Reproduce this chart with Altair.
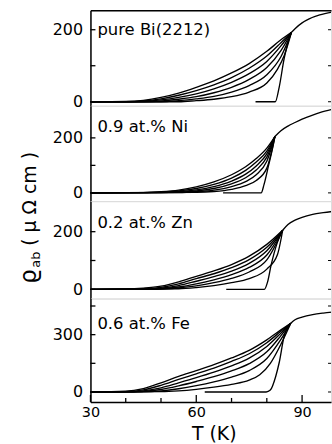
import altair as alt
import pandas as pd

FONT = "DejaVu Sans"
X_MIN, X_MAX = 30, 98.2
W = 242

# ---------------- data ----------------
# pure Bi(2212)
BI_T = [
    [30, 40, 45, 50, 55, 60, 65, 70, 75, 80, 84, 87],
    [30, 40, 45, 50, 55, 60, 65, 70, 75, 80, 84, 87],
    [30, 40, 45, 50, 55, 60, 65, 70, 75, 80, 84, 87],
    [30, 45, 50, 55, 60, 65, 70, 75, 80, 84, 87],
    [30, 50, 55, 60, 65, 70, 75, 80, 84, 87],
    [30, 55, 60, 65, 70, 75, 80, 83, 85, 87],
    [76.8, 82.4, 83.5, 84.9, 86, 87],
]
BI_R = [
    [0, 1, 4, 12, 24, 40, 58, 80, 106, 140, 172, 193],
    [0, 0, 2, 8, 18, 31, 47, 67, 93, 127, 164, 193],
    [0, 0, 1, 5, 12, 22, 36, 54, 78, 112, 155, 193],
    [0, 0, 2, 7, 14, 25, 40, 62, 95, 142, 193],
    [0, 0, 3, 8, 15, 27, 45, 75, 125, 193],
    [0, 0, 3, 7, 14, 27, 52, 90, 130, 193],
    [0, 0, 40, 119, 165, 193],
]
BI_NT = [87, 88, 90, 92, 95, 98.5]
BI_NR = [193, 203, 219, 230, 241, 249]

# 0.9 at.% Ni
NI_T = [
    [30, 45, 50, 55, 60, 65, 70, 74, 77, 80, 82.3],
    [30, 50, 55, 60, 65, 70, 74, 77, 80, 82.3],
    [30, 50, 55, 60, 65, 70, 74, 77, 80, 82.3],
    [30, 55, 60, 65, 70, 74, 77, 80, 82.3],
    [30, 55, 60, 65, 70, 74, 77, 80, 82.3],
    [30, 60, 65, 70, 74, 77, 80, 82.3],
    [67.6, 78.4, 79.2, 80.5, 81.6, 82.3],
]
NI_R = [
    [0, 1, 4, 10, 22, 40, 66, 95, 125, 163, 205],
    [0, 2, 7, 16, 31, 54, 82, 112, 152, 205],
    [0, 1, 4, 11, 23, 43, 68, 98, 142, 205],
    [0, 2, 7, 16, 33, 55, 83, 130, 205],
    [0, 1, 4, 10, 23, 41, 66, 115, 205],
    [0, 2, 5, 13, 26, 45, 90, 205],
    [0, 0, 30, 100, 160, 205],
]
NI_NT = [82.3, 84, 86, 88, 90, 93, 95, 98.5]
NI_NR = [205, 226, 243, 256, 268, 283, 292, 304]

# 0.2 at.% Zn
ZN_T = [
    [30, 40, 45, 50, 55, 60, 65, 70, 75, 80, 84.5],
    [30, 42, 45, 50, 55, 60, 65, 70, 75, 80, 84.5],
    [30, 45, 50, 55, 60, 65, 70, 75, 80, 84.5],
    [30, 48, 50, 55, 60, 65, 70, 75, 80, 84.5],
    [30, 50, 55, 60, 65, 70, 75, 80, 84.5],
    [30, 55, 60, 65, 70, 75, 80, 83, 84.5],
    [68.5, 79.3, 80.2, 81.2, 83, 84.5],
]
ZN_R = [
    [0, 1, 4, 11, 26, 45, 64, 86, 115, 156, 205],
    [0, 0, 2, 7, 19, 37, 54, 75, 103, 146, 205],
    [0, 1, 4, 13, 28, 44, 63, 90, 134, 205],
    [0, 0, 2, 8, 19, 33, 51, 76, 119, 205],
    [0, 1, 5, 12, 23, 38, 60, 102, 205],
    [0, 2, 6, 13, 23, 37, 70, 120, 205],
    [0, 0, 25, 83, 163, 205],
]
ZN_NT = [84.5, 86, 88, 90, 93, 96, 98.5]
ZN_NR = [205, 225, 240, 250, 260, 266, 270]

# 0.6 at.% Fe
FE_T = [
    [30, 40, 45, 50, 55, 60, 65, 70, 75, 80, 84, 86.8],
    [30, 40, 45, 50, 55, 60, 65, 70, 75, 80, 84, 86.8],
    [30, 40, 45, 50, 55, 60, 65, 70, 75, 80, 84, 86.8],
    [30, 42, 45, 50, 55, 60, 65, 70, 75, 80, 84, 86.8],
    [30, 45, 50, 55, 60, 65, 70, 75, 80, 84, 86.8],
    [30, 50, 55, 60, 65, 70, 75, 78, 81, 84, 86.8],
    [62.4, 79.8, 81, 82.5, 83.5, 84.9, 86.8],
]
FE_R = [
    [0, 4, 18, 48, 82, 112, 143, 178, 218, 273, 325, 360],
    [0, 2, 11, 35, 66, 95, 125, 160, 200, 258, 318, 360],
    [0, 1, 6, 22, 48, 75, 104, 137, 177, 238, 308, 360],
    [0, 0, 3, 13, 32, 55, 80, 110, 148, 210, 295, 360],
    [0, 1, 6, 17, 33, 53, 78, 112, 175, 275, 360],
    [0, 2, 6, 14, 25, 40, 62, 90, 150, 250, 360],
    [0, 0, 10, 80, 153, 291, 360],
]
FE_NT = [86.8, 88, 90, 93, 96, 98.5]
FE_NR = [360, 378, 392, 405, 413, 418]

LABELS = ["pure Bi(2212)", "0.9 at.% Ni", "0.2 at.% Zn", "0.6 at.% Fe"]
Y_DOMAINS = [[-11, 254], [-30, 317], [-32, 306], [-52, 489]]
Y_TICKS = [[0, 100, 200], [0, 100, 200], [0, 100, 200], [0, 150, 300, 450]]
Y_LABELS = [[0, 200], [0, 200], [0, 200], [0, 300]]
X_LABELS = [30, 60, 90]
X_MAJOR = [30, 60, 90]
X_MINOR = [40, 50, 70, 80]

HEIGHTS = [96, 96, 98, 104]
TEXT_Y = [25, 26, 27, 31]


def curves_df(Ts, Rs, nT, nR):
    rows = []
    for i, (t, r) in enumerate(zip(Ts, Rs)):
        for a, b in zip(t, r):
            rows.append({"T": a, "rho": b, "curve": f"c{i}"})
    for a, b in zip(nT, nR):
        rows.append({"T": a, "rho": b, "curve": "normal"})
    return pd.DataFrame(rows)


DFS = [
    curves_df(BI_T, BI_R, BI_NT, BI_NR),
    curves_df(NI_T, NI_R, NI_NT, NI_NR),
    curves_df(ZN_T, ZN_R, ZN_NT, ZN_NR),
    curves_df(FE_T, FE_R, FE_NT, FE_NR),
]


def panel(i, xaxis, extra_fn=None):
    h = HEIGHTS[i]
    xenc = alt.X("T:Q", scale=alt.Scale(domain=[X_MIN, X_MAX], nice=False, zero=False), axis=xaxis)
    yenc = alt.Y(
        "rho:Q",
        scale=alt.Scale(domain=Y_DOMAINS[i], nice=False, zero=False),
        axis=alt.Axis(
            values=Y_LABELS[i], ticks=False, tickSize=0, labelPadding=8, domain=True,
            domainColor="black", domainWidth=1.5, grid=False, title=None,
            labelFontSize=16, labelFont=FONT, labelColor="black",
            labelOverlap=False, labelFlush=False,
        ),
    )
    lines = alt.Chart(DFS[i]).mark_line(
        color="black", strokeWidth=1.35, interpolate="monotone", clip=True
    ).encode(x=xenc, y=yenc, detail="curve:N")
    tdf = pd.DataFrame({"rho": Y_TICKS[i]})
    lt = alt.Chart(tdf).mark_rule(color="black", strokeWidth=1.3).encode(
        y=yenc, x=alt.value(0), x2=alt.value(5))
    rt = alt.Chart(tdf).mark_rule(color="black", strokeWidth=1.0).encode(
        y=yenc, x=alt.value(W - 3), x2=alt.value(W))
    txt = alt.Chart(pd.DataFrame({"label": [LABELS[i]]})).mark_text(
        align="left", baseline="alphabetic", font=FONT, fontSize=16.5, color="black"
    ).encode(x=alt.value(7), y=alt.value(TEXT_Y[i]), text="label:N")
    layers = [lines, lt, rt, txt]
    if extra_fn:
        layers += extra_fn(xenc, h)
    return alt.layer(*layers).properties(width=W, height=h)


def extra_top(xenc, h):
    spacer = alt.Chart(pd.DataFrame({"a": [0]})).mark_rule(
        color="white", strokeOpacity=0).encode(x=alt.value(-90), x2=alt.value(0), y=alt.value(10))
    return [spacer]


def extra_title(xenc, h):
    parts = [("ϱ", 23, 0, 0), ("ab", 13, 16, 4), ("( μ  Ω  cm )", 19, 38, 0)]
    out = []
    for s, fs, dx, dy in parts:
        out.append(
            alt.Chart(pd.DataFrame({"t": [s]})).mark_text(
                align="left", baseline="alphabetic", angle=270, font=FONT,
                fontSize=fs, dx=dx, dy=dy, color="black"
            ).encode(x=alt.value(-55), y=alt.value(83), text="t:N")
        )
    return out


def extra_bottom(xenc, h):
    maj = alt.Chart(pd.DataFrame({"T": X_MAJOR})).mark_rule(color="black", strokeWidth=1.3).encode(
        x=xenc, y=alt.value(h), y2=alt.value(h - 7))
    mnr = alt.Chart(pd.DataFrame({"T": X_MINOR})).mark_rule(color="black", strokeWidth=1.3).encode(
        x=xenc, y=alt.value(h), y2=alt.value(h - 4))
    return [maj, mnr]


top_axis = alt.Axis(orient="top", labels=False, ticks=False, domain=True, domainColor="black",
                    domainWidth=1.5, grid=False, title=None)
bottom_axis = alt.Axis(
    orient="bottom", values=X_LABELS, ticks=False, tickSize=0, labelPadding=4,
    labelFontSize=14.5, labelFont=FONT, labelColor="black", labelFlush=False,
    domainColor="black", domainWidth=1.5, grid=False,
    title="T (K)", titleFontSize=19, titleFont=FONT, titleFontWeight="normal",
    titleColor="black", titleX=124, titleY=38, titleBaseline="alphabetic",
)

p1 = panel(0, top_axis, extra_top)
p2 = panel(1, None)
p3 = panel(2, None, extra_title)
p4 = panel(3, bottom_axis, extra_bottom)

chart = alt.vconcat(p1, p2, p3, p4, spacing=0, bounds="flush").properties(
    padding={"left": 0, "top": 8, "right": 0, "bottom": 0}
).configure_view(stroke=None).configure(background="white")

chart.save("out.html", embed_options={"renderer": "svg", "actions": False})
